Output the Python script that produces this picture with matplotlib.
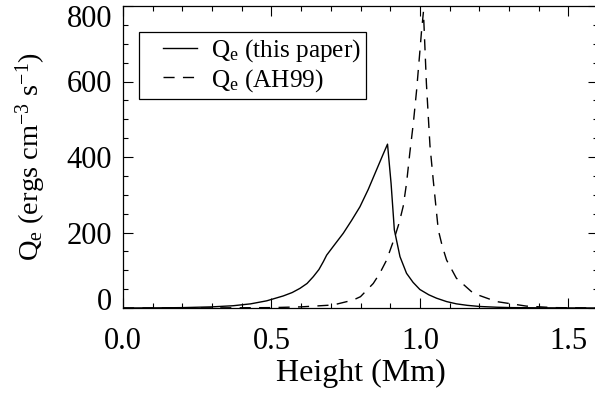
import matplotlib
matplotlib.use("Agg")
import matplotlib.pyplot as plt
import matplotlib.transforms as mtransforms
from matplotlib.legend_handler import HandlerLine2D
import numpy as np

plt.rcParams['font.family'] = 'Liberation Serif'
plt.rcParams['mathtext.fontset'] = 'custom'
plt.rcParams['mathtext.rm'] = 'Liberation Serif'
plt.rcParams['mathtext.it'] = 'Liberation Serif:italic'

# Q_e (this paper)
height_paper = [0.0, 0.1, 0.2, 0.3, 0.371, 0.43, 0.484, 0.54, 0.57, 0.596,
                0.62, 0.641, 0.66, 0.675, 0.686, 0.71, 0.742, 0.77, 0.798,
                0.826, 0.854, 0.875, 0.891, 0.903, 0.914, 0.933, 0.955,
                0.977, 1.0, 1.03, 1.056, 1.09, 1.123, 1.16, 1.202, 1.26,
                1.31, 1.4, 1.5, 1.6]
qe_paper = [0.0, 0.3, 1.0, 3.0, 6.0, 11.0, 19.0, 32.0, 41.0, 52.0,
            65.0, 83.0, 102.0, 123.0, 140.0, 165.0, 198.0, 232.0, 268.0,
            314.0, 366.0, 405.0, 434.0, 330.0, 207.0, 136.0, 92.0,
            68.0, 49.0, 35.0, 26.0, 17.0, 11.0, 7.0, 4.0, 2.0,
            1.0, 0.5, 0.2, 0.0]

# Q_e (AH99)
height_ah99 = [0.0, 0.3, 0.5, 0.6, 0.708, 0.775, 0.80, 0.843, 0.865, 0.888,
               0.912, 0.93, 0.944, 0.955, 0.966, 0.978, 0.989, 1.0, 1.005,
               1.012, 1.022, 1.034, 1.045, 1.062, 1.075, 1.09, 1.123, 1.18,
               1.258, 1.359, 1.45, 1.6]
qe_ah99 = [0.0, 0.3, 1.0, 3.0, 8.0, 21.0, 30.0, 65.0, 92.0, 127.0,
           180.0, 225.0, 270.0, 330.0, 410.0, 490.0, 577.0, 680.0, 728.0,
           785.0, 595.0, 430.0, 339.0, 207.0, 165.0, 127.0, 79.0, 39.0,
           17.0, 5.0, 1.0, 0.0]

fig = plt.figure(figsize=(5.95, 4), dpi=100)
ax = fig.add_axes([123/595, 92/400, 475/595, 302/400])

ax.plot(height_paper, qe_paper, color='black', lw=1.0, label=r'Q$_\mathrm{e}$ (this paper)')
ax.plot(height_ah99, qe_ah99, color='black', lw=1.0, dashes=(8, 6), label=r'Q$_\mathrm{e}$ (AH99)')

ax.set_xlim(0, 1.6)
ax.set_ylim(0, 800)
ax.set_xticks([0.0, 0.5, 1.0, 1.5])
ax.set_xticklabels(['0.0', '0.5', '1.0', '1.5'])
ax.set_xticks(np.arange(0, 1.61, 0.1), minor=True)
ax.set_yticks([0, 200, 400, 600, 800])
ax.set_yticks(np.arange(0, 801, 50), minor=True)

ax.tick_params(which='both', direction='in', top=True, right=True, labelsize=22, width=0.8)
ax.tick_params(which='major', length=7)
ax.tick_params(which='minor', length=3.5)
ax.tick_params(axis='x', pad=14)
ax.tick_params(axis='y', pad=8)
for s in ax.spines.values():
    s.set_linewidth(0.9)

# IDL pushes the end labels inside the axis range
ylabels = ax.get_yticklabels()
ylabels[0].set_transform(ylabels[0].get_transform() + mtransforms.ScaledTranslation(0, 9/100, fig.dpi_scale_trans))
ylabels[-1].set_transform(ylabels[-1].get_transform() + mtransforms.ScaledTranslation(0, -10/100, fig.dpi_scale_trans))

ax.set_xlabel('Height (Mm)', fontsize=23, labelpad=2)
ax.set_ylabel(r'Q$_\mathrm{e}$ (ergs cm$^{-3}$ s$^{-1}$)', fontsize=20.5)
ax.yaxis.set_label_coords(-0.158, 0.5)

# blank space left of the legend sample lines, as in the original
pad_handler = HandlerLine2D(xpad=0.72)
leg = ax.legend(loc='upper left', bbox_to_anchor=(0.034, 0.914), borderaxespad=0,
                fontsize=18.2, handlelength=2.06, handletextpad=0.56, borderpad=0.22,
                labelspacing=0.1, fancybox=False, framealpha=1, edgecolor='black',
                handler_map={matplotlib.lines.Line2D: pad_handler})
leg.get_frame().set_linewidth(0.9)

fig.savefig('out.png', dpi=100)
